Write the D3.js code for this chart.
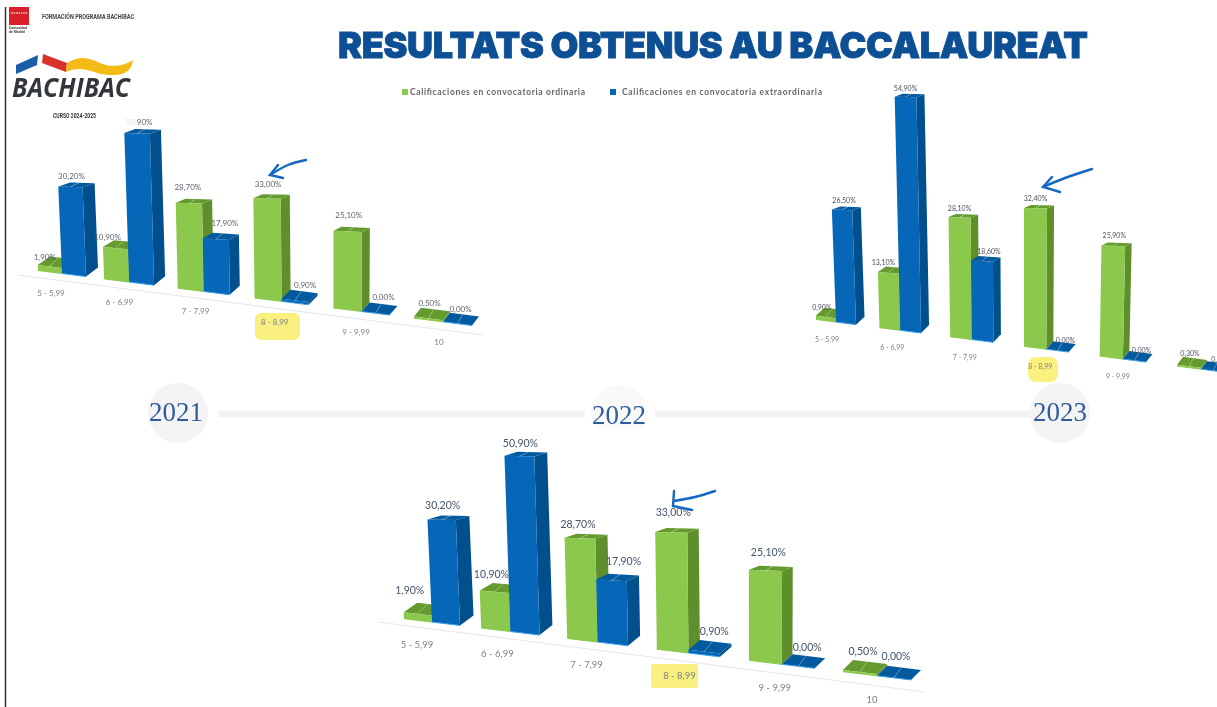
<!DOCTYPE html>
<html lang="en">
<head>
<meta charset="UTF-8">
<title>Resultats obtenus au baccalaureat</title>
<script src="https://d3js.org/d3.v7.min.js"></script>
<style>
  html, body { margin: 0; padding: 0; background: #fff; overflow: hidden; }
  svg { display: block; }
</style>
</head>
<body>
<script>
const width = 1217;
const height = 707;

const categories = ["5 - 5,99", "6 - 6,99", "7 - 7,99", "8 - 8,99", "9 - 9,99", "10"];
const seriesNames = ["Calificaciones en convocatoria ordinaria", "Calificaciones en convocatoria extraordinaria"];
const years = ["2021", "2022", "2023"];

const ordinaria2021 = [1.9, 10.9, 28.7, 33.0, 25.1, 0.5];
const extraordinaria2021 = [30.2, 50.9, 17.9, 0.9, 0.0, 0.0];
const ordinaria2022 = [1.9, 10.9, 28.7, 33.0, 25.1, 0.5];
const extraordinaria2022 = [30.2, 50.9, 17.9, 0.9, 0.0, 0.0];
const ordinaria2023 = [0.9, 13.1, 28.1, 32.4, 25.9, 0.3];
const extraordinaria2023 = [26.5, 54.9, 18.6, 0.0, 0.0, 0.0];

const colors = [
  {front: "#8cc84b", side: "#5f8f2b", top: "#659a2f", edge: "#8cc84b"},
  {front: "#0667b9", side: "#024f8d", top: "#035a9f", edge: "#3aa0e6"}
];

// layout of the three slanted pseudo 3d charts
const layouts = [
  {ord: ordinaria2021, ext: extraordinaria2021, xr: [38, 414], wr: [24, 29], unit: [2.88, 3.12],
   bx: [105, 330], by: [279, 307.5], dx: [12, 7], dyFlat: -9, dyTall: -4, vx: 330, k: 1.6e-4,
   axis: [[18, 275], [483, 335]], tickOff: [13, 25], tickDy: 21, tickSize: 8, labelSize: 8, labelColor: "#5c6470",
   labelX: [[-5, -8, -1, 1, 1, 1], [1, 2, 9, 10, 8, 3]], labelY: [-8, -10, -16, -14, -16, -14],
   labelY2: [-11, -11, -15, -14, -14, -13], showLast: true},
  {ord: ordinaria2023, ext: extraordinaria2023, xr: [816, 1177], wr: [20, 24], unit: [4.25, 4.28],
   bx: [882, 1099], by: [328, 356], dx: [8.5, 6], dyFlat: -8, dyTall: -3, vx: 1020, k: 2e-4,
   axis: null, tickOff: [11, 20], tickDy: 18, tickSize: 7, labelSize: 7, labelColor: "#4b5260",
   labelX: [[-4, -5, 0, 0, 1, 1], [2, 0, 7, 8, 7, 8]], labelY: [-9, -10, -9, -10, -10, -12],
   labelY2: [-9, -9, -9, -9, -9, -10], showLast: false},
  {ord: ordinaria2022, ext: extraordinaria2022, xr: [404, 843], wr: [28, 34], unit: [3.4, 3.66],
   bx: [481, 746], by: [628, 660], dx: [13.5, 10], dyFlat: -10, dyTall: -4, vx: 760, k: 1.35e-4,
   axis: [[378, 622], [925, 692]], tickOff: [13, 29], tickDy: 24, tickSize: 9.5, labelSize: 10.5, labelColor: "#44546a",
   labelX: [[-8, -3, -2, 2, 3, 3], [1, 1, 12, 10, 9, 2]], labelY: [-22, -16, -14, -20, -18, -19],
   labelY2: [-14, -13, -18, -19, -17, -20], showLast: true}
];

const highlights = [
  {x: 255, y: 313, w: 45, h: 27, r: 6},
  {x: 1028, y: 357, w: 30, h: 25, r: 8},
  {x: 651, y: 664, w: 47, h: 24, r: 2}
];

const arrows = [
  [[306, 160], [288, 165], [270, 175], [278, 165], [270, 175], [283, 178]],
  [[1092, 169], [1065, 178], [1043, 187], [1052, 177], [1043, 187], [1060, 192]],
  [[715, 491], [695, 497], [674, 501], [674, 491], [673, 506], [692, 510]]
];

const fmt = v => v.toFixed(2).replace(".", ",") + "%";
const poly = d3.line();
const curve = d3.line().curve(d3.curveCatmullRom);

const svg = d3.select("body").append("svg")
  .attr("width", width)
  .attr("height", height)
  .style("filter", "blur(0.7px)");

svg.append("rect").attr("width", width).attr("height", height).attr("fill", "#fff");

// page edge on the left
svg.append("line").attr("x1", 5.5).attr("x2", 5.5).attr("y1", 7).attr("y2", height)
  .attr("stroke", "#333").attr("stroke-width", 1.5);

// header
svg.append("text").attr("x", 338).attr("y", 58)
  .attr("textLength", 750).attr("lengthAdjust", "spacing")
  .attr("font-family", "Inter, Roboto, sans-serif").attr("font-weight", 900).attr("font-size", 36)
  .attr("fill", "#0d4f95").attr("stroke", "#0d4f95").attr("stroke-width", 0.8)
  .text("RESULTATS OBTENUS AU BACCALAUREAT");

// madrid logo
svg.append("rect").attr("x", 9).attr("y", 7).attr("width", 20).attr("height", 18).attr("fill", "#d9202a");
svg.selectAll(".star").data(d3.range(7)).enter().append("circle")
  .attr("cx", d => 12 + d * 2.4).attr("cy", 13).attr("r", 0.8).attr("fill", "#fff");
svg.append("text").attr("x", 9).attr("y", 29).attr("font-size", 3.5).attr("font-weight", 700)
  .attr("font-family", "Roboto, sans-serif").attr("fill", "#444").text("Comunidad");
svg.append("text").attr("x", 9).attr("y", 33).attr("font-size", 3.5).attr("font-weight", 700)
  .attr("font-family", "Roboto, sans-serif").attr("fill", "#444").text("de Madrid");
svg.append("text").attr("x", 42).attr("y", 19).attr("textLength", 92).attr("lengthAdjust", "spacingAndGlyphs")
  .attr("font-size", 7).attr("font-weight", 700).attr("font-family", "Roboto, sans-serif")
  .attr("fill", "#444").text("FORMACIÓN PROGRAMA BACHIBAC");

// bachibac logo
svg.append("path").attr("d", "M16,65L38,55L37,65L16,74Z").attr("fill", "#1a5ea8");
svg.append("path").attr("d", "M43,54L67,63L66,72L42,63Z").attr("fill", "#d8332b");
svg.append("path").attr("d", "M67,63C80,55 90,58 100,63C112,68 124,66 133,60C132,69 126,75 114,75C100,76 90,69 80,69C74,69 70,70 66,72Z")
  .attr("fill", "#f4bb16");
svg.append("text").attr("x", 12).attr("y", 97).attr("textLength", 118).attr("lengthAdjust", "spacingAndGlyphs")
  .attr("font-size", 27).attr("font-style", "italic").attr("font-weight", 700)
  .attr("font-family", "'Open Sans', sans-serif").attr("fill", "#33363a").text("BACHIBAC");
svg.append("text").attr("x", 53).attr("y", 118).attr("textLength", 43).attr("lengthAdjust", "spacingAndGlyphs")
  .attr("font-size", 6.5).attr("font-weight", 700).attr("font-family", "Roboto, sans-serif")
  .attr("fill", "#333").text("CURSO 2024-2025");

// legend
const legendPos = [{sq: 402, tx: 410, len: 175}, {sq: 610, tx: 622, len: 200}];
const legend = svg.selectAll(".legend").data(seriesNames).enter().append("g").attr("class", "legend");
legend.append("rect").attr("x", (d, i) => legendPos[i].sq).attr("y", 89).attr("width", 6).attr("height", 6)
  .attr("fill", (d, i) => i ? colors[1].front : colors[0].front);
legend.append("text").attr("x", (d, i) => legendPos[i].tx).attr("y", 95)
  .attr("textLength", (d, i) => legendPos[i].len).attr("lengthAdjust", "spacing")
  .attr("font-size", 8.5).attr("font-weight", 700).attr("font-family", "Lato, sans-serif")
  .attr("fill", "#666").text(d => d);

// timeline
const yearX = d3.scalePoint().domain(years).range([178, 1060]);
const timeline = svg.append("g");
timeline.append("line").attr("x1", 218).attr("x2", 585).attr("y1", 414).attr("y2", 414)
  .attr("stroke", "#f2f2f2").attr("stroke-width", 7);
timeline.append("line").attr("x1", 655).attr("x2", 1030).attr("y1", 414).attr("y2", 414)
  .attr("stroke", "#f2f2f2").attr("stroke-width", 7);
timeline.selectAll("circle").data(years).enter().append("circle")
  .attr("cx", d => yearX(d)).attr("cy", 413).attr("r", d => d === "2022" ? 28 : 30)
  .attr("fill", d => d === "2022" ? "#f9f9f9" : "#f4f4f4");
svg.append("rect").attr("x", 560).attr("y", 429).attr("width", 120).attr("height", 30).attr("fill", "#fff");
timeline.selectAll("text").data(years).enter().append("text")
  .attr("x", d => yearX(d) + (d === "2021" ? -2 : 0)).attr("y", d => d === "2022" ? 424 : 421)
  .attr("text-anchor", "middle")
  .attr("font-family", "'Liberation Serif', serif").attr("font-size", 27)
  .attr("fill", "#2f5d9b").text(d => d);

highlights.forEach(h => {
  svg.append("rect").attr("x", h.x).attr("y", h.y).attr("width", h.w).attr("height", h.h)
    .attr("rx", h.r).attr("fill", "#f9f07f");
});

layouts.forEach(drawChart);

// the cut off label at the top of the first chart
svg.append("rect").attr("x", 122).attr("y", 115).attr("width", 15).attr("height", 11)
  .attr("fill", "#fff").attr("opacity", 0.8);

arrows.forEach(a => {
  svg.append("path").attr("d", curve(a.slice(0, 3))).attr("fill", "none")
    .attr("stroke", "#1667c2").attr("stroke-width", 2.4).attr("stroke-linecap", "round");
  svg.append("path").attr("d", poly(a.slice(3))).attr("fill", "none")
    .attr("stroke", "#1667c2").attr("stroke-width", 2.4).attr("stroke-linecap", "round");
});

function drawChart(c) {
  const g = svg.append("g");
  const last = categories.length - 1;
  const x = d3.scalePow().exponent(1.08).domain([0, last]).range(c.xr);
  const w = d3.scaleLinear().domain([0, last]).range(c.wr);
  const unit = d3.scaleLinear().domain([0, last]).range(c.unit);
  const depth = d3.scaleLinear().domain([0, last]).range(c.dx);
  const base = d3.scaleLinear().domain(c.bx).range(c.by);
  const tick = d3.scaleLinear().domain([0, last]).range(c.tickOff);
  const topDy = d3.scaleLinear().domain([0, 25]).range([c.dyFlat, c.dyTall]).clamp(true);
  const slope = (c.by[1] - c.by[0]) / (c.bx[1] - c.bx[0]);
  const topSlope = d3.scaleLinear().domain([0, 30]).range([slope, slope * 0.2]).clamp(true);

  if (c.axis) {
    g.append("path").attr("d", poly(c.axis)).attr("stroke", "#e6e8ee").attr("stroke-width", 1.2).attr("fill", "none");
  }

  categories.forEach((cat, i) => {
    if (i < last || c.showLast) {
      const tx = x(i) + tick(i);
      g.append("text").attr("x", tx).attr("y", base(tx) + c.tickDy)
        .attr("text-anchor", "middle").attr("dominant-baseline", "central")
        .attr("font-family", "Lato, sans-serif").attr("font-size", c.tickSize)
        .attr("fill", "#7a7f88").text(cat);
    }
    [c.ord, c.ext].forEach((vals, s) => {
      const v = vals[i];
      const bw = w(i);
      const dx = depth(i);
      const left = x(i) + s * bw;
      const right = left + bw;
      const hv = v * unit(i);
      const lean = px => (px - c.vx) * c.k * hv;
      const bl = [left, base(left)];
      const br = [right, base(right)];
      const tl = [left + lean(left), base(left) - hv];
      const tr = [right + lean(right), tl[1] + bw * topSlope(v)];
      const dyT = topDy(v);
      const col = colors[s];
      const bar = g.append("g");
      // side, top, front
      bar.append("path").attr("fill", col.side)
        .attr("d", poly([br, [br[0] + dx, br[1] + c.dyFlat], [tr[0] + dx, tr[1] + dyT], tr]) + "Z");
      bar.append("path").attr("fill", col.top)
        .attr("d", poly([tl, tr, [tr[0] + dx, tr[1] + dyT], [tl[0] + dx, tl[1] + dyT]]) + "Z");
      bar.append("path").attr("fill", col.front)
        .attr("d", poly([bl, br, tr, tl]) + "Z");
      bar.append("path").attr("fill", "none").attr("stroke", col.edge).attr("stroke-width", 1)
        .attr("d", poly([bl, br]));
      // leader line on the top face
      const mx = (tl[0] + tr[0]) / 2;
      const my = (tl[1] + tr[1]) / 2;
      bar.append("path").attr("fill", "none").attr("stroke", "#fff").attr("stroke-opacity", 0.45).attr("stroke-width", 0.8)
        .attr("d", poly([[mx, my], [mx + dx * 0.7, my + dyT]]));
    });
  });

  [c.ord, c.ext].forEach((vals, s) => {
    vals.forEach((v, i) => {
      const bw = w(i);
      const left = x(i) + s * bw;
      const cx = left + bw / 2;
      const hv = v * unit(i);
      const dy = s ? c.labelY2[i] : c.labelY[i];
      g.append("text").attr("x", cx + (cx - c.vx) * c.k * hv + c.labelX[s][i]).attr("y", base(left) - hv + dy)
        .attr("text-anchor", "middle").attr("dominant-baseline", "central")
        .attr("font-family", "Lato, sans-serif").attr("font-size", c.labelSize)
        .attr("fill", c.labelColor).text(fmt(v));
    });
  });
}
</script>
</body>
</html>
